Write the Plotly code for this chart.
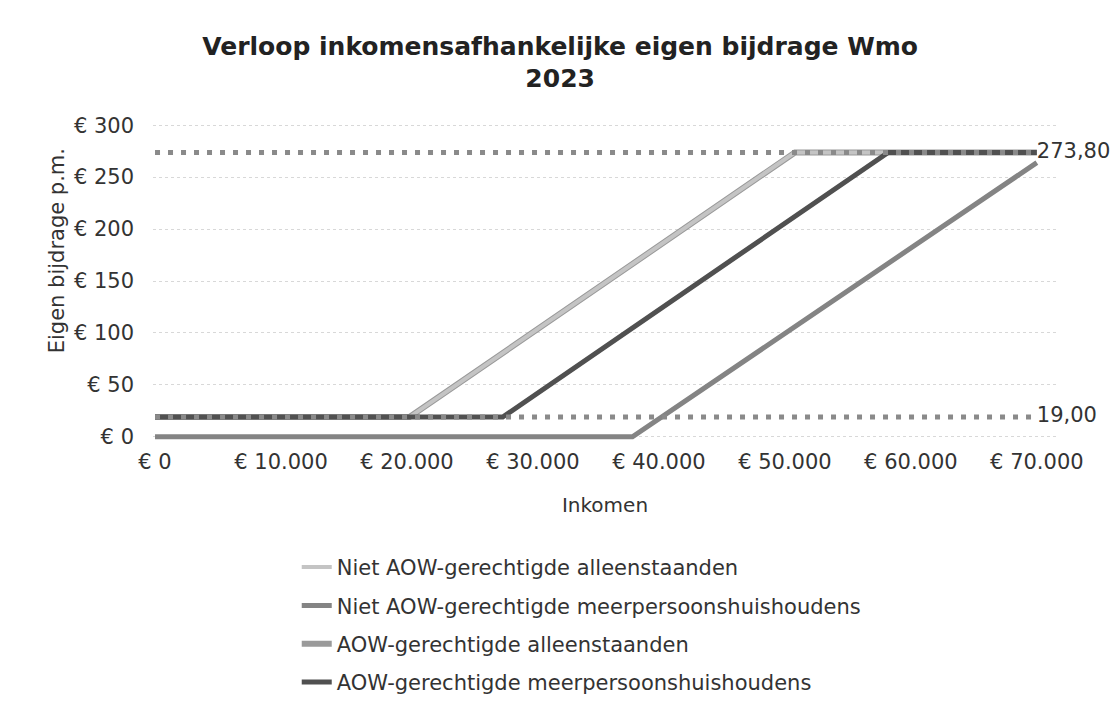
import plotly.graph_objects as go

# ---- data ----
income_alleen = [0, 20200, 50800, 70000]
bijdrage_alleen = [19.0, 19.0, 273.8, 273.8]

income_meer_niet_aow = [0, 37900, 70000]
bijdrage_meer_niet_aow = [0.0, 0.0, 264.0]

income_meer_aow = [0, 27600, 58200, 70000]
bijdrage_meer_aow = [19.0, 19.0, 273.8, 273.8]

ref_income = [0, 70000]
ref_max = [273.8, 273.8]
ref_min = [19.0, 19.0]
ref_max_label = ["", "273,80"]
ref_min_label = ["", "19,00"]

x_tickvals = [0, 10000, 20000, 30000, 40000, 50000, 60000, 70000]
x_ticktext = ["€ 0", "€ 10.000", "€ 20.000", "€ 30.000", "€ 40.000", "€ 50.000", "€ 60.000", "€ 70.000"]
y_tickvals = [0, 50, 100, 150, 200, 250, 300]
y_ticktext = ["€ 0", "€ 50", "€ 100", "€ 150", "€ 200", "€ 250", "€ 300"]

FONT = "DejaVu Sans"
TXT = "#333333"

fig = go.Figure()

fig.add_trace(go.Scatter(
    x=income_alleen, y=bijdrage_alleen, mode="lines",
    name="AOW-gerechtigde alleenstaanden", legendgroup="c", legendrank=3,
    line=dict(color="#9a9a9a", width=6)))
fig.add_trace(go.Scatter(
    x=income_alleen, y=bijdrage_alleen, mode="lines",
    name="Niet AOW-gerechtigde alleenstaanden", legendgroup="a", legendrank=1,
    line=dict(color="#c4c4c4", width=4)))
fig.add_trace(go.Scatter(
    x=income_meer_niet_aow, y=bijdrage_meer_niet_aow, mode="lines",
    name="Niet AOW-gerechtigde meerpersoonshuishoudens", legendgroup="b", legendrank=2,
    line=dict(color="#848484", width=5)))
fig.add_trace(go.Scatter(
    x=income_meer_aow, y=bijdrage_meer_aow, mode="lines",
    name="AOW-gerechtigde meerpersoonshuishoudens", legendgroup="d", legendrank=4,
    line=dict(color="#505050", width=5)))
fig.add_trace(go.Scatter(
    x=ref_income, y=ref_max, mode="lines+text", text=ref_max_label,
    textposition="middle right", cliponaxis=False,
    textfont=dict(family=FONT, size=21, color=TXT),
    showlegend=False, line=dict(color="#8a8a8a", width=5, dash="5px,8px")))
fig.add_trace(go.Scatter(
    x=ref_income, y=ref_min, mode="lines+text", text=ref_min_label,
    textposition="middle right", cliponaxis=False,
    textfont=dict(family=FONT, size=21, color=TXT),
    showlegend=False, line=dict(color="#8a8a8a", width=5, dash="5px,8px")))

fig.add_annotation(
    text="Eigen bijdrage p.m.", textangle=-90,
    xref="paper", yref="paper", x=-0.106, y=0.593,
    xanchor="center", yanchor="middle", showarrow=False,
    font=dict(family=FONT, size=21, color=TXT))

fig.update_layout(
    width=1120, height=722,
    paper_bgcolor="white", plot_bgcolor="white",
    margin=dict(l=145, r=71, t=112, b=288),
    font=dict(family=FONT, color=TXT, size=21),
    title=dict(
        text="<b>Verloop inkomensafhankelijke eigen bijdrage Wmo<br>2023</b>",
        x=0.493, xanchor="center", xref="container",
        y=0.935, yanchor="top",
        font=dict(family=FONT, size=25, color="#222222")),
    xaxis=dict(
        range=[-160, 71600], tickvals=x_tickvals, ticktext=x_ticktext,
        showgrid=False, zeroline=False, showline=False, ticks="",
        automargin=False,
        tickfont=dict(family=FONT, size=21, color=TXT),
        ticklabelstandoff=5,
        title=dict(text="Inkomen", font=dict(family=FONT, size=20, color=TXT), standoff=24)),
    yaxis=dict(
        range=[-5, 305], tickvals=y_tickvals, ticktext=y_ticktext,
        showgrid=True, gridcolor="#d8d8d8", griddash="dot", gridwidth=1,
        zeroline=False, showline=False, ticks="",
        automargin=False,
        tickfont=dict(family=FONT, size=21, color=TXT),
        ticklabelstandoff=18),
    legend=dict(
        x=0.159, xanchor="left", y=-0.326, yanchor="top",
        orientation="v", tracegroupgap=8,
        font=dict(family=FONT, size=21, color=TXT),
        bgcolor="rgba(0,0,0,0)"),
)

fig.write_html("out.html")
